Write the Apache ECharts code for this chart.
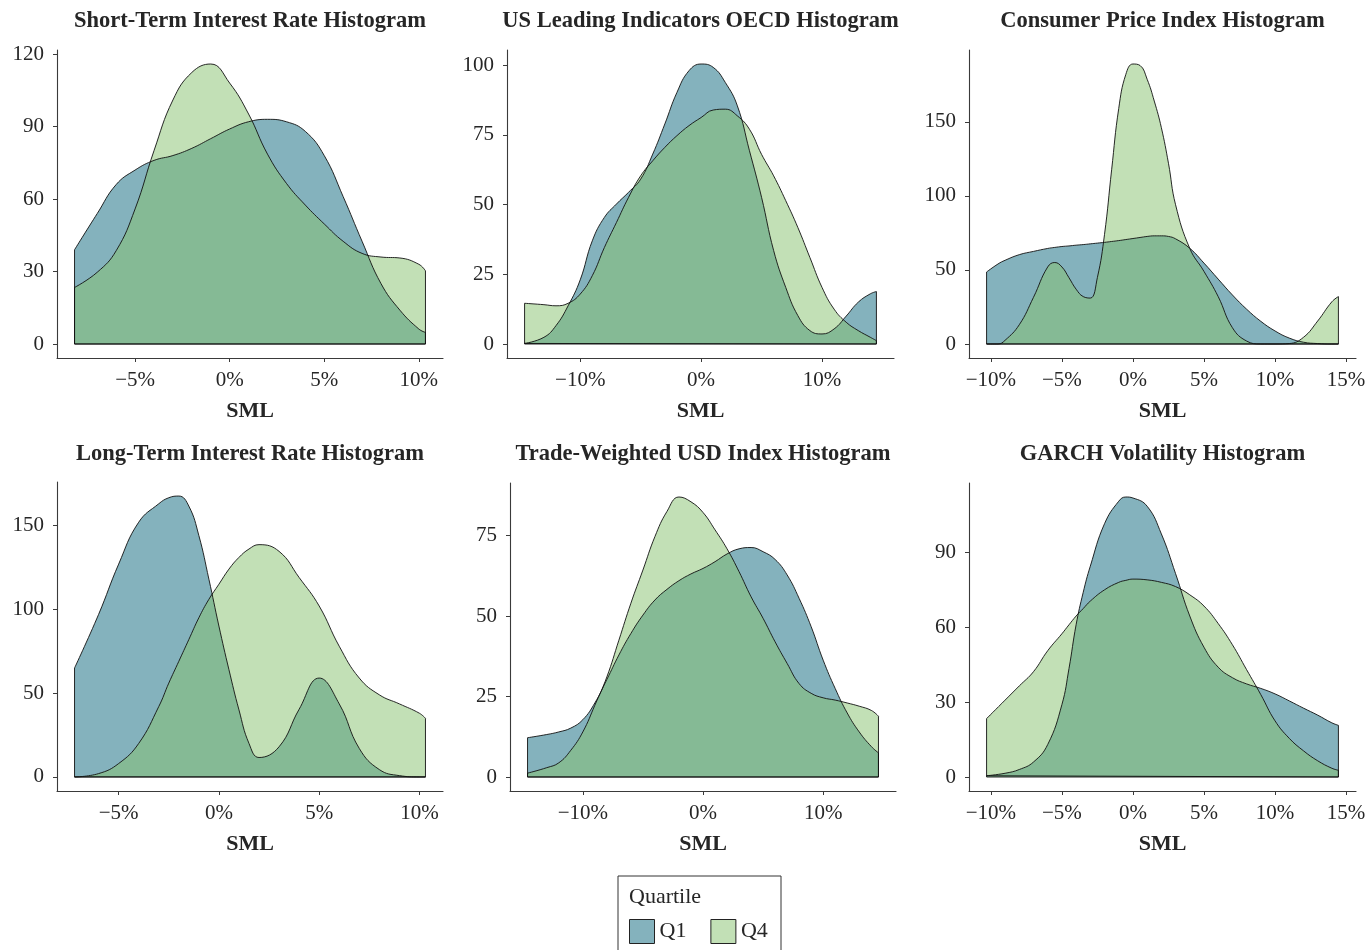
<!DOCTYPE html>
<html><head><meta charset="utf-8">
<script src="https://cdn.jsdelivr.net/npm/echarts@6/dist/echarts.min.js"></script>
<style>html,body{margin:0;padding:0;background:#fff}#c{width:1372px;height:950px}</style>
</head><body><div id="c"></div>
<script>
// ---- data (x in %, density values) ----
const shortX  = [-8.2,-7,-6,-5,-4,-3,-2,-1,0,1,2,3,4,5,6,7,8,9,10,10.35];
const shortQ1 = [39,54,66,72,76,78,81,85,89,92,93,92,88,78,61,42.5,25,14,6.2,4.8];
const shortQ4 = [23.4,29.7,38.6,55.9,80,101,112.4,115.9,108,95.2,78.6,66.5,57.5,49.7,42.5,37.5,36,35.6,33,30.3];
const shortXTicks = [-5,0,5,10];
const shortYTicks = [0,30,60,90,120];

const leadX  = [-14.6,-13,-12,-11,-10,-9,-8,-7,-6,-5,-4,-3,-2,-1,0,1,2,3,4,5,6,7,8,9,10,11,12,13,14,14.5];
const leadQ1 = [0.2,2.4,6.6,13.7,23,37,45.4,50.2,54.4,59.1,68.1,78.9,90.2,98,100.4,99.2,93.8,85.4,69.3,52.6,33.5,20.3,10.2,4.8,3.6,5.4,10,15,18,18.8];
const leadQ4 = [14.6,14.1,13.7,14.6,17.9,24.5,34.6,43.6,52.6,60.3,65.7,70.5,74.7,78.3,81.2,83.9,84.2,81.8,77,68,60.3,51.4,41.8,31,20.3,12.5,7.8,4.8,2.4,1.2];
const leadXTicks = [-10,0,10];
const leadYTicks = [0,25,50,75,100];

const cpiX  = [-10.3,-9.5,-9,-8,-7,-6,-5.5,-5,-4.5,-4,-3.5,-3,-2.5,-2,-1.5,-1,-0.5,0,0.5,1,1.5,2,2.5,3,4,5,6,7,8,9,10,11,12,13,14,14.46];
const cpiQ1 = [48.6,54,56.5,60.3,62.5,64.5,65.2,65.8,66.2,66.7,67.1,67.6,68.1,68.6,69.2,69.8,70.5,71.2,71.9,72.6,73,73,72.6,71,64.6,54.6,43.8,33.1,23.5,15.3,8.8,4,1.2,0.3,0,0];
const cpiQ4 = [0,0,2.5,13,31.5,52,55,52,44.7,37,32,31,45,74,117.6,159,182,189,188,178.7,164,146,122,94,64.5,49,32,11,2,0,0,0.3,4.5,15.5,28.5,32];
const cpiXTicks = [-10,-5,0,5,10,15];
const cpiYTicks = [0,50,100,150];

const longX  = [-7.2,-6,-5,-4,-3,-2.5,-2,-1.5,-1,-0.5,0,0.5,1,1.5,2,3,4,5,6,7,8,9,10,10.3];
const longQ1 = [65,97,127,152,163,166.6,167.6,161.6,144,118,90,64,40,20,11.6,18,40.4,59,43.6,17,4.4,0.8,0,0];
const longQ4 = [0,2,8,20,42,56,69,82,95,106,115,124,131,136,138.6,134.6,119,102,78,59,49,43.6,38,35];
const longXTicks = [-5,0,5,10];
const longYTicks = [0,50,100,150];

const tradeX  = [-14.6,-13,-12,-11,-10,-9,-8,-7,-6,-5,-4,-3,-2,-1,0,1,2,3,4,5,6,7,8,9,10,11,12,13,14,14.6];
const tradeQ1 = [12.2,13.2,14,15.2,17.8,23,30.3,37.9,44.6,50.3,55,58.3,61,63.1,64.8,66.9,69.3,70.9,71.3,70,67.6,62.8,55.5,46.7,36.3,27.5,19.9,14,9.5,7.5];
const tradeQ4 = [1.2,2.9,4.4,8.3,14,22.3,31.1,42.5,54,64.3,74.7,82.5,87,85.5,82.2,76.8,70.9,63.8,56,49.3,42,35.3,29,26,24.6,23.9,23,22,20.7,18.9];
const tradeXTicks = [-10,0,10];
const tradeYTicks = [0,25,50,75];

const garchX  = [-10.3,-9,-8,-7,-6,-5,-4.5,-4,-3.5,-3,-2,-1,-0.5,0,1,2,3,4,5,6,7,8,9,10,11,12,13,14,14.46];
const garchQ1 = [0.5,1.5,3,6,13,29,43.5,61,74,84.5,101.5,110.5,112.2,111.8,108.5,97.4,81.5,64.5,52,44,39.8,37.3,35.5,33.3,30.5,27.6,24.8,21.7,20.7];
const garchQ4 = [23.4,30.8,36.5,42.2,50.6,57.4,61,64.5,67.5,70.5,75,78,78.8,79.3,79,78,76.3,73,68.5,61.5,53,43,33,22.5,15.5,10.5,6.5,3.5,2.7];
const garchXTicks = [-10,-5,0,5,10,15];
const garchYTicks = [0,30,60,90];

const titles = ['Short-Term Interest Rate Histogram','US Leading Indicators OECD Histogram','Consumer Price Index Histogram',
                'Long-Term Interest Rate Histogram','Trade-Weighted USD Index Histogram','GARCH Volatility Histogram'];
const seriesNames = ['Q1','Q4'];
const legendTitle = 'Quartile';
const axisName = 'SML';

// ---- build ----
const panels = [
  {x:shortX, q1:shortQ1, q4:shortQ4, xt:shortXTicks, yt:shortYTicks},
  {x:leadX,  q1:leadQ1,  q4:leadQ4,  xt:leadXTicks,  yt:leadYTicks},
  {x:cpiX,   q1:cpiQ1,   q4:cpiQ4,   xt:cpiXTicks,   yt:cpiYTicks},
  {x:longX,  q1:longQ1,  q4:longQ4,  xt:longXTicks,  yt:longYTicks},
  {x:tradeX, q1:tradeQ1, q4:tradeQ4, xt:tradeXTicks, yt:tradeYTicks},
  {x:garchX, q1:garchQ1, q4:garchQ4, xt:garchXTicks, yt:garchYTicks}
];
const layout = [
  {left:57, top:50, width:386, height:308},
  {left:507, top:50, width:387, height:308},
  {left:969, top:50, width:387, height:308},
  {left:57, top:482, width:386, height:309},
  {left:510, top:483, width:386, height:308},
  {left:969, top:483, width:387, height:308}
];
const FONT = '"Liberation Serif", "DejaVu Serif", serif';
const TXT = '#262626';
const AX = '#3a3a3a';
const fill = {Q1:'rgba(9,101,123,0.5)', Q4:'rgba(133,193,109,0.5)'};
const legendFill = {Q1:'#84b2bd', Q4:'#c2e0b6'};
const fmtPct = v => (v < 0 ? '\u2212' + Math.abs(v) : String(v)) + '%';

const grids = [], xAxes = [], yAxes = [], series = [], graphics = [];
panels.forEach((p, i) => {
  const L = layout[i];
  grids.push({left:L.left, top:L.top, width:L.width, height:L.height, containLabel:false});
  const x0 = p.x[0], xn = p.x[p.x.length-1], xr = xn - x0;
  const ymax = Math.max(...p.q1, ...p.q4);
  xAxes.push({
    gridIndex:i, type:'value', min:x0 - 0.05*xr, max:xn + 0.05*xr,
    name:axisName, nameLocation:'middle', nameGap:42,
    nameTextStyle:{fontFamily:FONT, fontWeight:'bold', fontSize:22, color:TXT},
    axisLine:{show:true, onZero:false, lineStyle:{color:AX, width:1.1}},
    axisTick:{show:true, length:4, customValues:p.xt, lineStyle:{color:AX}},
    axisLabel:{customValues:p.xt, formatter:fmtPct, margin:12, fontFamily:FONT, fontSize:21, color:TXT},
    splitLine:{show:false}
  });
  yAxes.push({
    gridIndex:i, type:'value', min:-0.05*ymax, max:1.05*ymax,
    axisLine:{show:true, onZero:false, lineStyle:{color:AX, width:1.1}},
    axisTick:{show:true, length:4, customValues:p.yt, lineStyle:{color:AX}},
    axisLabel:{customValues:p.yt, margin:13, fontFamily:FONT, fontSize:21, color:TXT},
    splitLine:{show:false}
  });
  [['Q1', p.q1], ['Q4', p.q4]].forEach(([nm, ys]) => {
    const pts = p.x.map((xv, k) => [xv, ys[k]]);
    series.push({
      name:nm, type:'line', xAxisIndex:i, yAxisIndex:i, data:pts,
      smooth:0.45, showSymbol:false, symbol:'none', silent:true,
      lineStyle:{color:'#111', width:0.9},
      areaStyle:{color:fill[nm], opacity:1, origin:'auto'}
    });
    series.push({
      name:nm + ' outline', type:'line', xAxisIndex:i, yAxisIndex:i,
      data:[[x0, ys[0]], [x0, 0], [xn, 0], [xn, ys[ys.length-1]]],
      smooth:false, showSymbol:false, symbol:'none', silent:true,
      lineStyle:{color:'#111', width:0.9}
    });
  });
  graphics.push({
    type:'text', x:L.left + L.width/2, y:(i < 3 ? 21 : 454),
    style:{text:titles[i], align:'center', verticalAlign:'middle', textAlign:'center', textVerticalAlign:'middle',
           fontFamily:FONT, fontWeight:'bold', fontSize:22.5, fill:TXT}
  });
});
graphics.push({type:'rect', shape:{x:618, y:876, width:163, height:120}, style:{fill:'none', stroke:'#333', lineWidth:1}});
graphics.push({type:'text', x:629, y:897, style:{text:legendTitle, align:'left', verticalAlign:'middle', textVerticalAlign:'middle',
               fontFamily:FONT, fontSize:22, fill:TXT}});

const chart = echarts.init(document.getElementById('c'), null, {renderer:'canvas'});
chart.setOption({
  animation:false,
  backgroundColor:'#fff',
  grid:grids, xAxis:xAxes, yAxis:yAxes, series:series,
  legend:{
    data:seriesNames.map(n => ({name:n, icon:'rect', itemStyle:{color:legendFill[n], borderColor:'#222', borderWidth:1, opacity:1}})),
    left:629, top:919, orient:'horizontal', itemWidth:25, itemHeight:24, itemGap:24, padding:0,
    selectedMode:false, textStyle:{fontFamily:FONT, fontSize:22, color:TXT}
  },
  graphic:graphics
});
</script>
</body></html>
